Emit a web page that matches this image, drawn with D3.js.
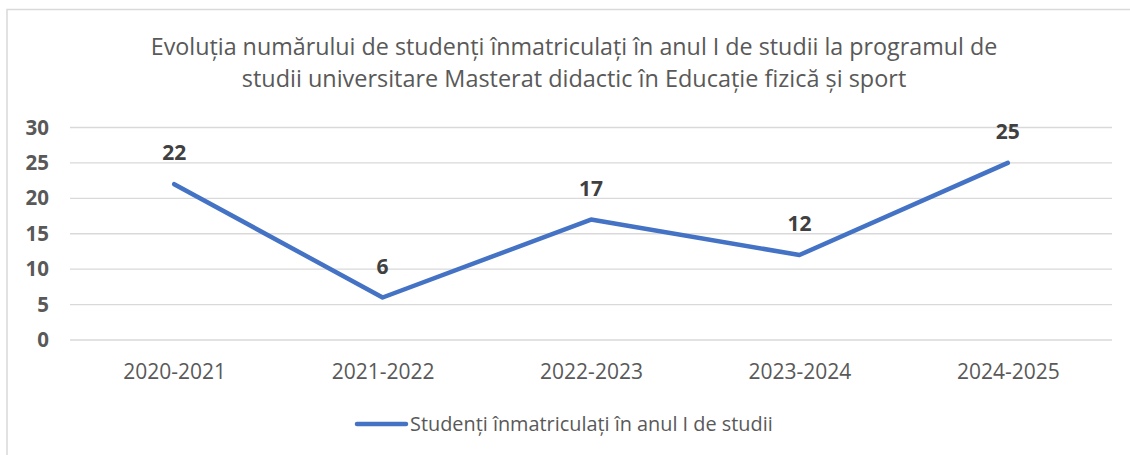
<!DOCTYPE html>
<html>
<head>
<meta charset="utf-8">
<script src="https://cdn.jsdelivr.net/npm/d3@7"></script>
<style>
body { margin: 0; background: #fff; }
svg text { font-family: "Open Sans", "Noto Sans", sans-serif; }
</style>
</head>
<body>
<script>
(function(){

//chart data
var years = ["2020-2021", "2021-2022", "2022-2023", "2023-2024", "2024-2025"];
var students = [22, 6, 17, 12, 25];
var yTicks = [0, 5, 10, 15, 20, 25, 30];
var titleLines = [
	"Evoluția numărului de studenți înmatriculați în anul I de studii la programul de",
	"studii universitare Masterat didactic în Educație fizică și sport"
];
var seriesName = "Studenți înmatriculați în anul I de studii";

var width = 1130,
	height = 455;

var svg = d3.select("body")
	.append("svg")
	.attr("width", width)
	.attr("height", height);

//chart frame (cut off at right and bottom like the screenshot)
svg.append("rect")
	.attr("x", 7)
	.attr("y", 9.5)
	.attr("width", 1140)
	.attr("height", 460)
	.attr("fill", "#fff")
	.attr("stroke", "#d9d9d9")
	.attr("stroke-width", 1.5);

//fit a text element to a target width
function fitText(sel, target){
	var w = sel.node().getComputedTextLength();
	var fs = parseFloat(sel.attr("font-size"));
	sel.attr("font-size", fs * target / w);
}

//title
var titleWidths = [847, 665];
titleLines.forEach(function(line, i){
	var t = svg.append("text")
		.attr("x", 574)
		.attr("y", 55 + i * 32)
		.attr("text-anchor", "middle")
		.attr("font-size", 20)
		.attr("fill", "#595959")
		.text(line);
	fitText(t, titleWidths[i]);
});

//scales
var x = d3.scalePoint()
	.domain(years)
	.range([70, 1112])
	.padding(0.5);

var y = d3.scaleLinear()
	.domain([0, 30])
	.range([340, 127.5]);

//gridlines
svg.append("g")
	.selectAll("line")
	.data(yTicks)
	.enter()
	.append("line")
	.attr("x1", 70)
	.attr("x2", 1112)
	.attr("y1", function(d){ return y(d); })
	.attr("y2", function(d){ return y(d); })
	.attr("stroke", "#d9d9d9")
	.attr("stroke-width", 1.3);

//y axis labels
var yAxis = d3.axisLeft(y)
	.tickValues(yTicks)
	.tickSize(0)
	.tickPadding(0);

var yG = svg.append("g")
	.attr("transform", "translate(49,0)")
	.call(yAxis);
yG.select(".domain").remove();
yG.selectAll("text")
	.attr("font-size", 20.5)
	.attr("font-weight", "bold")
	.attr("fill", "#595959");

//x axis labels
var xAxis = d3.axisBottom(x)
	.tickSize(0)
	.tickPadding(0);

var xG = svg.append("g")
	.attr("transform", "translate(0,364)")
	.call(xAxis);
xG.select(".domain").remove();
xG.selectAll("text")
	.attr("font-size", 21)
	.attr("fill", "#595959");

//series line
var line = d3.line()
	.x(function(d, i){ return x(years[i]); })
	.y(function(d){ return y(d); });

svg.append("path")
	.datum(students)
	.attr("d", line)
	.attr("fill", "none")
	.attr("stroke", "#4472C4")
	.attr("stroke-width", 4.5)
	.attr("stroke-linecap", "round")
	.attr("stroke-linejoin", "round");

//data labels
svg.selectAll(".label")
	.data(students)
	.enter()
	.append("text")
	.attr("class", "label")
	.attr("x", function(d, i){ return x(years[i]); })
	.attr("y", function(d){ return y(d) - 24; })
	.attr("text-anchor", "middle")
	.attr("font-size", 21)
	.attr("font-weight", "bold")
	.attr("fill", "#404040")
	.text(function(d){ return d; });

//legend
svg.append("line")
	.attr("x1", 357)
	.attr("x2", 406)
	.attr("y1", 424)
	.attr("y2", 424)
	.attr("stroke", "#4472C4")
	.attr("stroke-width", 4.5)
	.attr("stroke-linecap", "round");

var leg = svg.append("text")
	.attr("x", 410)
	.attr("y", 431)
	.attr("font-size", 18)
	.attr("fill", "#595959")
	.text(seriesName);
fitText(leg, 363);

})();
</script>
</body>
</html>
